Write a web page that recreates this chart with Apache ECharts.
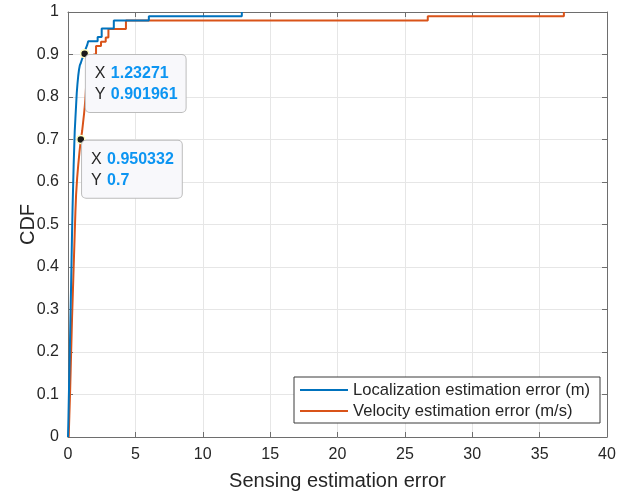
<!DOCTYPE html>
<html>
<head>
<meta charset="utf-8">
<script src="https://cdn.jsdelivr.net/npm/echarts@6/dist/echarts.min.js"></script>
<style>
  html, body { margin:0; padding:0; background:#fff; }
  #chart { width:629px; height:495px; }
</style>
</head>
<body>
<div id="chart"></div>
<script>
// 读图得到的阶梯 CDF 顶点（x=误差，y=累计概率）
var locX = [0, 0.03, 0.06, 0.1, 0.14, 0.18, 0.22, 0.26, 0.3, 0.34, 0.38, 0.42, 0.46, 0.5, 0.55, 0.6, 0.65, 0.7, 0.76, 0.82, 0.88, 0.95, 1.05, 1.15, 1.23271, 1.3, 1.42, 1.5, 2.2, 2.5, 3.4, 6.0, 12.9];
var locY = [0, 0.04, 0.09, 0.15, 0.21, 0.28, 0.34, 0.41, 0.48, 0.54, 0.59, 0.64, 0.68, 0.72, 0.75, 0.78, 0.81, 0.83, 0.85, 0.865, 0.875, 0.88, 0.89, 0.895, 0.901961, 0.912, 0.922, 0.931, 0.941, 0.961, 0.98, 0.99, 1.0];

var velX = [0.05, 0.1, 0.15, 0.2, 0.25, 0.3, 0.35, 0.4, 0.45, 0.5, 0.55, 0.6, 0.68, 0.76, 0.85, 0.950332, 1.05, 1.12, 1.19, 1.25, 1.3, 1.35, 1.4, 1.5, 1.7, 1.9, 2.08, 2.45, 2.8, 3.0, 4.3, 26.7, 36.8];
var velY = [0, 0.05, 0.1, 0.16, 0.22, 0.28, 0.33, 0.38, 0.43, 0.48, 0.53, 0.57, 0.61, 0.64, 0.67, 0.7, 0.72, 0.74, 0.76, 0.78, 0.8, 0.83, 0.86, 0.88, 0.89, 0.9, 0.92, 0.93, 0.94, 0.96, 0.98, 0.99, 1.0];

var seriesNames = ["Localization estimation error (m)", "Velocity estimation error (m/s)"];
var tipLoc = [1.23271, 0.901961];
var tipVel = [0.950332, 0.7];

var xTicks = { min:0, max:40, interval:5 };
var yTicks = { min:0, max:1, interval:0.1 };

var FONT = "'Liberation Sans', Arial, Helvetica, sans-serif";
var INK = "#262626";
var FRAME = "#6e6e6e";

function pairs(xs, ys){ return xs.map(function(x, i){ return [x, ys[i]]; }); }

function tip(pt){
  return {
    coord: pt,
    symbol: "circle",
    symbolSize: 8,
    itemStyle: { color: "#1a1a1a", borderColor: "#ffffc0", borderWidth: 1.5 },
    label: {
      show: true,
      position: [6, 6],
      align: "left",
      verticalAlign: "top",
      formatter: "{k|X}{v|" + pt[0] + "}\n{k|Y}{v|" + pt[1] + "}",
      backgroundColor: "#f8f8fb",
      borderColor: "#bcbcbc",
      borderWidth: 1,
      borderRadius: 4,
      padding: [8, 8, 7, 9],
      rich: {
        k: { color: INK, fontSize: 16, fontFamily: FONT, lineHeight: 21, width: 16 },
        v: { color: "#0c95f2", fontSize: 16, fontWeight: "bold", fontFamily: FONT, lineHeight: 21 }
      }
    }
  };
}

function axisBase(){
  return {
    axisLine: { show: true, onZero: false, lineStyle: { color: FRAME, width: 1 } },
    axisTick: { show: true, inside: true, length: 5, lineStyle: { color: FRAME } },
    axisLabel: { color: INK, fontSize: 16, fontFamily: FONT },
    splitLine: { show: false }
  };
}

var chart = echarts.init(document.getElementById("chart"), null, { renderer: "canvas" });

var xMain = Object.assign(axisBase(), {
  type: "value", min: xTicks.min, max: xTicks.max, interval: xTicks.interval, position: "bottom",
  name: "Sensing estimation error", nameLocation: "middle", nameGap: 34, nameMoveOverlap: false,
  nameTextStyle: { color: INK, fontSize: 20, fontFamily: FONT },
  splitLine: { show: true, lineStyle: { color: "#e6e6e6" } }
});
xMain.axisLabel.margin = 10;
var xTop = Object.assign(axisBase(), {
  type: "value", min: xTicks.min, max: xTicks.max, interval: xTicks.interval, position: "top"
});
xTop.axisLabel = { show: false };

var yMain = Object.assign(axisBase(), {
  type: "value", min: yTicks.min, max: yTicks.max, interval: yTicks.interval, position: "left",
  name: "CDF", nameLocation: "middle", nameGap: 30, nameMoveOverlap: false,
  nameTextStyle: { color: INK, fontSize: 20, fontFamily: FONT },
  splitLine: { show: true, lineStyle: { color: "#e6e6e6" } }
});
yMain.axisLabel.margin = 9;
var yRight = Object.assign(axisBase(), {
  type: "value", min: yTicks.min, max: yTicks.max, interval: yTicks.interval, position: "right"
});
yRight.axisLabel = { show: false };

chart.setOption({
  animation: false,
  backgroundColor: "#fff",
  grid: { left: 68, right: 22, top: 12, bottom: 58, containLabel: false, outerBoundsMode: "none" },
  xAxis: [xMain, xTop],
  yAxis: [yMain, yRight],
  legend: {
    orient: "vertical",
    left: 294, top: 377,
    padding: [4, 10, 3, 6],
    icon: "rect",
    itemWidth: 48, itemHeight: 2, itemGap: 3,
    backgroundColor: "#fff",
    borderColor: "#3a3a3a", borderWidth: 1,
    textStyle: { color: INK, fontSize: 16.6, fontFamily: FONT, lineHeight: 18 },
    data: seriesNames
  },
  series: [
    {
      name: seriesNames[0], type: "line", step: "end", symbol: "none",
      data: pairs(locX, locY),
      lineStyle: { color: "#0072BD", width: 2 }, itemStyle: { color: "#0072BD" },
      z: 3
    },
    {
      name: seriesNames[1], type: "line", step: "end", symbol: "none",
      data: pairs(velX, velY),
      lineStyle: { color: "#D95319", width: 2 }, itemStyle: { color: "#D95319" },
      z: 2,
      markPoint: { z: 10, data: [tip(tipLoc), tip(tipVel)] }
    }
  ]
});
</script>
</body>
</html>
